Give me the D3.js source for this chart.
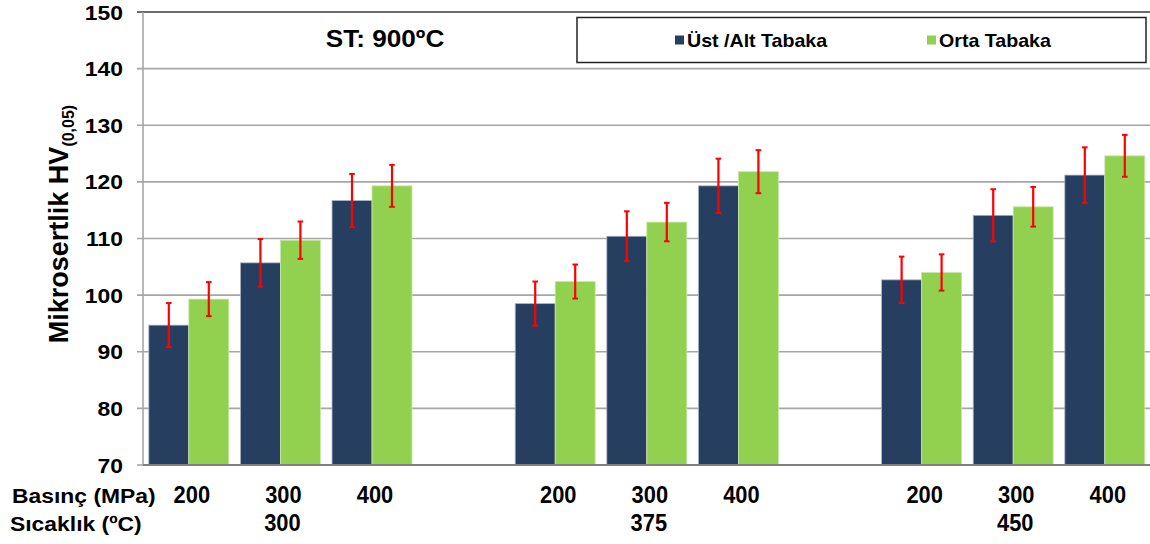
<!DOCTYPE html>
<html>
<head>
<meta charset="utf-8">
<script src="https://cdn.jsdelivr.net/npm/d3@7"></script>
<style>
  html, body { margin: 0; padding: 0; background: #fff; }
  svg { display: block; }
  text { font-family: Arial, "Liberation Sans", sans-serif; font-weight: bold; fill: #000; }
</style>
</head>
<body>
<svg id="chart" width="1150" height="544"></svg>
<script>
// Pressing conditions: sintering temperature groups and pressures within each group
const temperatures = ["300", "375", "450"];
const pressures = ["200", "300", "400"];

// Microhardness HV(0,05) per condition (temperature-major order)
const upperLayer = [94.7, 105.7, 116.7, 98.5, 110.4, 119.3, 102.7, 114.1, 121.2];
const upperLayerErr = [3.9, 4.2, 4.7, 3.9, 4.4, 4.8, 4.1, 4.6, 4.9];
const middleLayer = [99.3, 109.7, 119.3, 102.4, 112.9, 121.8, 104.0, 115.6, 124.6];
const middleLayerErr = [3.0, 3.3, 3.7, 3.0, 3.4, 3.8, 3.2, 3.5, 3.7];

const seriesNames = ["Üst /Alt Tabaka", "Orta Tabaka"];
const seriesColors = ["#263F61", "#92D050"];
const yTicks = [70, 80, 90, 100, 110, 120, 130, 140, 150];

// Slots along the x axis: three pressures per temperature, an empty slot between groups
const slots = [];
temperatures.forEach((t, ti) => {
  pressures.forEach(p => slots.push({ id: t + "-" + p, temp: t, pressure: p }));
  if (ti < temperatures.length - 1) slots.push({ id: "gap-" + ti, gap: true });
});

const rows = [];
let k = 0;
slots.forEach(s => {
  if (s.gap) return;
  rows.push({ slot: s.id, temp: s.temp, pressure: s.pressure,
    values: [
      { series: 0, v: upperLayer[k], e: upperLayerErr[k] },
      { series: 1, v: middleLayer[k], e: middleLayerErr[k] }
    ] });
  k++;
});

const svg = d3.select("#chart");
const plot = { left: 143, right: 1150.6, top: 12, bottom: 465 };
const sx = 1.09;    // horizontal stretch for word labels
const sxNum = 0.93; // condensed digits on the category rows

const x = d3.scaleBand()
  .domain(slots.map(s => s.id))
  .range([plot.left, plot.right])
  .paddingInner(0.127)
  .paddingOuter(0.0635);
const xs = d3.scaleBand().domain([0, 1]).range([0, x.bandwidth()]);
const y = d3.scaleLinear().domain([70, 150]).range([plot.bottom, plot.top]);

function label(g, px, py, str, anchor, size, stretch) {
  return g.append("g").attr("transform", `translate(${px},${py}) scale(${stretch || sx},1)`)
    .append("text")
    .attr("text-anchor", anchor)
    .style("font-size", size + "px")
    .text(str);
}

// Gridlines with short outward ticks
svg.append("g").selectAll("line").data(yTicks.filter(v => v > 70)).join("line")
  .attr("x1", plot.left - 6).attr("x2", plot.right)
  .attr("y1", d => y(d)).attr("y2", d => y(d))
  .attr("stroke", d => d === 150 ? "#3a3a3a" : "#a6a6a6")
  .attr("stroke-width", d => d === 150 ? 1.5 : 1.6);

// Y axis line
svg.append("line")
  .attr("x1", plot.left).attr("x2", plot.left)
  .attr("y1", plot.top).attr("y2", plot.bottom)
  .attr("stroke", "#a6a6a6").attr("stroke-width", 1.6);
svg.append("line")
  .attr("x1", plot.left - 6).attr("x2", plot.left)
  .attr("y1", plot.bottom).attr("y2", plot.bottom)
  .attr("stroke", "#a6a6a6").attr("stroke-width", 1.6);

// Y tick labels
const yl = svg.append("g");
yTicks.forEach(v => {
  label(yl, 123, y(v) + 7.5, String(v), "end", 21);
});

// Bars
const groups = svg.append("g").selectAll("g").data(rows).join("g")
  .attr("transform", d => `translate(${x(d.slot)},0)`);

groups.selectAll("rect").data(d => d.values).join("rect")
  .attr("x", d => xs(d.series))
  .attr("width", xs.bandwidth())
  .attr("y", d => y(d.v))
  .attr("height", d => y(70) - y(d.v))
  .attr("fill", d => seriesColors[d.series])
  .attr("stroke", d => d.series === 0 ? "#aab6c6" : "#c9e8a8")
  .attr("stroke-width", 0.8);

// Error bars
const eb = groups.selectAll("g.err").data(d => d.values).join("g").attr("class", "err")
  .attr("transform", d => `translate(${xs(d.series) + xs.bandwidth() / 2},0)`);
eb.append("line")
  .attr("x1", 0).attr("x2", 0)
  .attr("y1", d => y(d.v + d.e)).attr("y2", d => y(d.v - d.e))
  .attr("stroke", "#ff0000").attr("stroke-width", 2.2);
eb.selectAll("line.cap").data(d => [d.v + d.e, d.v - d.e]).join("line")
  .attr("class", "cap")
  .attr("x1", -2.8).attr("x2", 2.8)
  .attr("y1", d => y(d)).attr("y2", d => y(d))
  .attr("stroke", "#ff0000").attr("stroke-width", 2);

// X axis line
svg.append("line")
  .attr("x1", plot.left).attr("x2", plot.right)
  .attr("y1", plot.bottom).attr("y2", plot.bottom)
  .attr("stroke", "#7f7f7f").attr("stroke-width", 2);

// Category labels: pressure row and temperature row
const xl = svg.append("g");
label(xl, 12, 503, "Basınç (MPa)", "start", 21);
label(xl, 10, 531, "Sıcaklık (ºC)", "start", 21);
rows.forEach(r => {
  const cx = x(r.slot) + x.bandwidth() / 2;
  label(xl, cx + 3, 503, r.pressure, "middle", 23.5, sxNum);
});
temperatures.forEach(t => {
  const cx = x(t + "-300") + x.bandwidth() / 2;
  label(xl, cx + 2, 531, t, "middle", 23.5, sxNum);
});

// Y axis title
const yt = svg.append("text")
  .attr("transform", "translate(68,224) rotate(-90)")
  .attr("text-anchor", "middle")
  .style("font-size", "27px");
yt.append("tspan").text("Mikrosertlik HV");
yt.append("tspan").attr("dy", 6).style("font-size", "16px").text("(0,05)");

// Title
label(svg, 385, 47, "ST: 900ºC", "middle", 24);

// Legend
const lg = svg.append("g");
lg.append("rect")
  .attr("x", 577).attr("y", 17.5).attr("width", 569).attr("height", 45)
  .attr("fill", "#fff").attr("stroke", "#222").attr("stroke-width", 1.5);
const legendPos = [675, 927];
seriesNames.forEach((name, i) => {
  lg.append("rect")
    .attr("x", legendPos[i]).attr("y", 35.5).attr("width", 9).attr("height", 9)
    .attr("fill", seriesColors[i]);
  label(lg, legendPos[i] + 12, 47, name, "start", 18);
});
</script>
</body>
</html>
